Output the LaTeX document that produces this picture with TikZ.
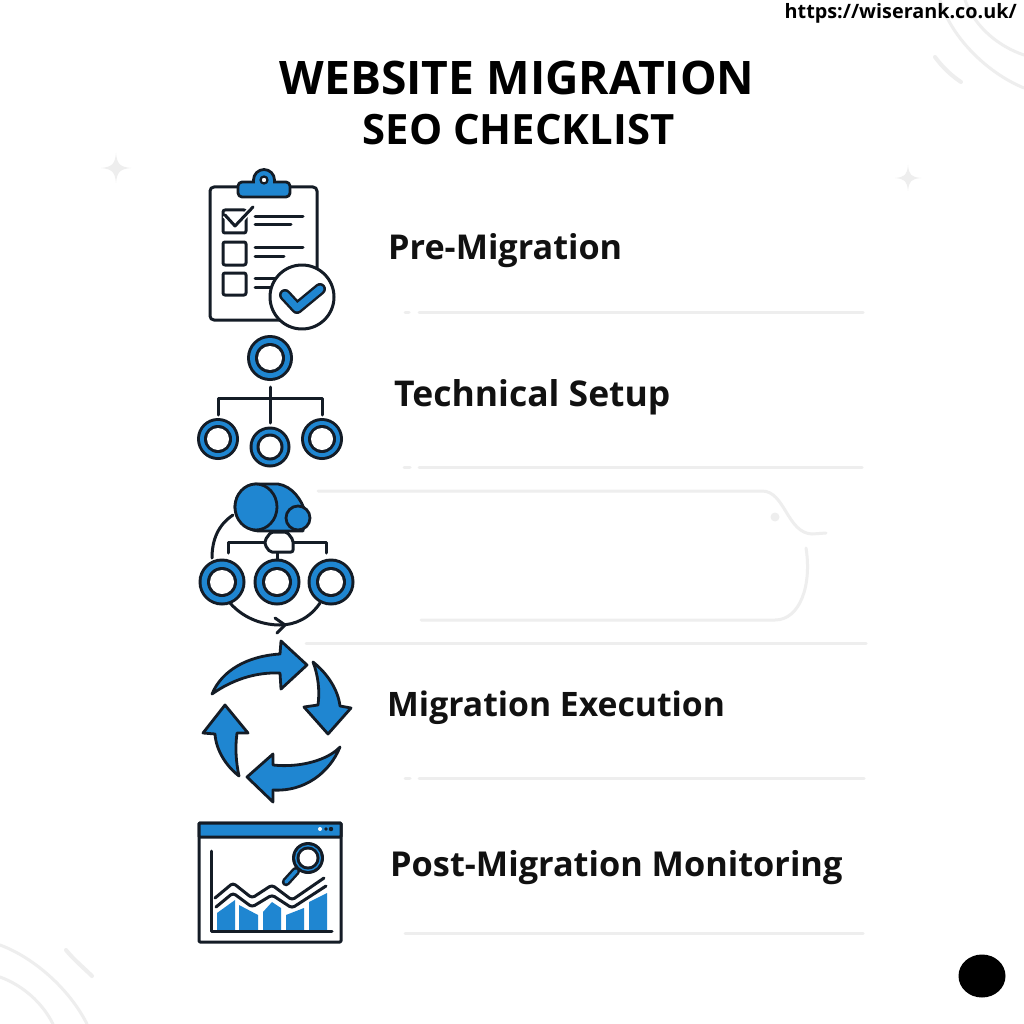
\documentclass[tikz,border=0pt]{standalone}
\usepackage{fontspec}
\setmainfont{Open Sans}
\definecolor{ink}{HTML}{141C26}
\definecolor{sky}{HTML}{1F86D1}
\definecolor{ghost}{HTML}{EEEEEE}
\definecolor{txt}{HTML}{111111}
\tikzset{
  ln/.style={draw=ink,line width=3pt,line cap=round,line join=round},
  shp/.style={draw=ink,fill=sky,line width=2.8pt,line join=round},
  bg/.style={draw=ghost,line width=3pt,line cap=round},
  lbl/.style={anchor=base west,inner sep=0pt,text=txt},
  ttl/.style={anchor=base,inner sep=0pt,text=black},
}
\newcommand{\ringat}[4]{%
  \fill[ink] (#1,#2) circle[radius=#3];
  \fill[sky] (#1,#2) circle[radius=#3-3];
  \fill[ink] (#1,#2) circle[radius=#4+3];
  \fill[white] (#1,#2) circle[radius=#4];}
\begin{document}
\begin{tikzpicture}[x=1pt,y=-1pt]
\useasboundingbox (0,0) rectangle (1024,1024);
\fill[white] (0,0) rectangle (1024,1024);
% background ornaments
\draw[bg] (940,0) .. controls (950,35) and (985,72) .. (1024,88);
\draw[bg] (965,0) .. controls (975,28) and (1000,47) .. (1024,55);
\draw[bg,line width=4pt] (935,57) .. controls (943,68) and (952,76) .. (961,82);
\draw[bg] (0,945) .. controls (35,958) and (70,990) .. (87,1024);
\draw[bg] (0,977) .. controls (22,985) and (42,1002) .. (53,1024);
\draw[bg,line width=4pt] (66,950) .. controls (74,960) and (84,968) .. (92,976);
\fill[ghost] (116,153) .. controls (117,164) and (120,167) .. (131,168) .. controls (120,169) and (117,172) .. (116,183) .. controls (115,172) and (112,169) .. (101,168) .. controls (112,167) and (115,164) .. (116,153) -- cycle;
\fill[ghost] (908,165) .. controls (909,175) and (911,177) .. (921,178) .. controls (911,179) and (909,181) .. (908,191) .. controls (907,181) and (905,179) .. (895,178) .. controls (905,177) and (907,175) .. (908,165) -- cycle;
% rules
\draw[bg] (405,312) -- (409,312); \draw[bg] (419,312) -- (863,312);
\draw[bg] (404,467) -- (410,467); \draw[bg] (419,467) -- (862,467);
\draw[bg] (306,643) -- (866,643);
\draw[bg] (405,778) -- (410,778); \draw[bg] (419,778) -- (864,778);
\draw[bg] (405,933) -- (863,933);
% speech bubble
\draw[bg] (318,491) -- (762,491) .. controls (785,491) and (787,533) .. (812,534) -- (826,533);
\draw[bg] (806,548) .. controls (812,585) and (800,620) .. (775,620) -- (421,620);
\fill[ghost] (775,517) circle[radius=4.5];
% titles
\node[ttl,font=\bfseries\fontsize{46.2}{46}\selectfont] (title) at (517,95) {WEBSITE MIGRATION};
\node[ttl,font=\bfseries\fontsize{41.8}{42}\selectfont] (sub) at (518.5,145) {SEO CHECKLIST};
\node[anchor=base east,inner sep=0pt,text=black,font=\bfseries\fontsize{19.8}{20}\selectfont] (url) at (1017,19) {https://wiserank.co.uk/};
\node[lbl,font=\bfseries\fontsize{34.2}{34}\selectfont] (a) at (388,259) {Pre-Migration};
\node[lbl,font=\bfseries\fontsize{35.5}{36}\selectfont] (b) at (394,406) {Technical Setup};
\node[lbl,font=\bfseries\fontsize{33.7}{34}\selectfont] (c) at (387,716) {Migration Execution};
\node[lbl,font=\bfseries\fontsize{34.3}{34}\selectfont] (d) at (390,876) {Post-Migration Monitoring};
% clipboard
\draw[ln,fill=white,rounded corners=4pt] (210,187) rectangle (317,320);
\draw[shp] (264,180) circle[radius=10.5];
\draw[shp,rounded corners=4pt] (238,182) rectangle (290,197);
\fill[sky] (255,180) rectangle (273,185);
\draw[draw=ink,fill=white,line width=2.2pt] (264,180) circle[radius=3.5];
\draw[ln,rounded corners=2pt] (223,210) rectangle (246,233);
\draw[ln,rounded corners=2pt] (223,242) rectangle (246,265);
\draw[ln,rounded corners=2pt] (223,273) rectangle (246,295);
\draw[white,line width=6pt] (225,215) -- (235,226) -- (253,207);
\draw[ln] (225,215) -- (235,226) -- (253,207);
\draw[ln] (255,217) -- (303,217); \draw[ln] (255,225) -- (291,225);
\draw[ln] (255,247) -- (303,247); \draw[ln] (255,256) -- (284,256);
\draw[ln] (255,278) -- (282,278); \draw[ln] (255,287) -- (275,287);
\draw[ln,fill=white] (302,297) circle[radius=32];
\draw[draw=ink,line width=12pt,line cap=round,line join=round] (285,295) -- (297,308) -- (320,289);
\draw[draw=sky,line width=7pt,line cap=round,line join=round] (285,295) -- (297,308) -- (320,289);
% org chart
\ringat{270}{358}{23}{12}
\ringat{218}{439}{21}{11}
\ringat{270}{447}{20.5}{10.5}
\ringat{322}{439}{21}{11}
\draw[ln] (270,387) -- (270,423);
\draw[ln] (218,415) -- (218,398) -- (322,398) -- (322,415);
% cycle chart
\draw[ln] (233,515) .. controls (218,525) and (212,540) .. (212,558);
\draw[ln] (230,603) .. controls (245,620) and (265,625) .. (280,625) .. controls (295,625) and (310,618) .. (320,603);
\draw[ln] (275,618) -- (285,625) -- (277,633);
\draw[ln] (277,552) -- (277,559);
\draw[ln] (228,553) -- (228,542) -- (326,542) -- (326,553);
\draw[ln,fill=white,rounded corners=2pt] (271,532) -- (287,532) -- (293,540) -- (293,552) -- (270,552) -- (265,545) -- (265,540) -- cycle;
\draw[shp] (256,484) -- (278,484) .. controls (292,486) and (302,500) .. (305,512) -- (303,531) -- (258,531) .. controls (245,530) and (235,518) .. (235,507) .. controls (235,495) and (245,484) .. (256,484) -- cycle;
\draw[shp] (256,507) ellipse[x radius=21,y radius=23];
\draw[shp] (298,518) circle[radius=12];
\ringat{222}{582}{23.5}{12}
\ringat{277}{582}{23.5}{12}
\ringat{331}{582}{23.5}{12}
% circular arrows
\draw[shp] (212,694) .. controls (222,670) and (248,656) .. (280,654) -- (281,641) -- (307,665) -- (281,689) -- (280,673) .. controls (255,672) and (232,680) .. (212,694) -- cycle;
\draw[shp] (313,662) .. controls (328,674) and (338,690) .. (340,706) -- (351,708) -- (328,734) -- (304,707) -- (318,705) .. controls (320,690) and (318,675) .. (313,662) -- cycle;
\draw[shp] (340,747) .. controls (328,760) and (300,768) .. (273,765) -- (273,754) -- (247,777) -- (273,802) -- (273,790) .. controls (305,792) and (330,772) .. (340,747) -- cycle;
\draw[shp] (239,776) .. controls (236,762) and (235,748) .. (237,733) -- (248,733) -- (225,705) -- (203,733) -- (215,734) .. controls (216,750) and (226,766) .. (239,776) -- cycle;
% window chart
\draw[ln,fill=white,rounded corners=1pt] (199,823) rectangle (341,942);
\draw[draw=ink,fill=sky,line width=3pt,rounded corners=1pt] (199,823) rectangle (341,837);
\fill[white] (320,829) circle[radius=2];
\fill[ink] (326,829) circle[radius=1.8];
\fill[ink] (331,829) circle[radius=2.2];
\fill[sky] (217,930) -- (217,913) -- (235,900) -- (235,930) -- cycle;
\fill[sky] (239,930) -- (239,905) -- (258,915) -- (258,930) -- cycle;
\fill[sky] (263,930) -- (263,912) -- (272,902) -- (281,908) -- (281,930) -- cycle;
\fill[sky] (286,930) -- (286,915) -- (304,908) -- (304,930) -- cycle;
\fill[sky] (309,930) -- (309,902) -- (327,893) -- (327,930) -- cycle;
\draw[ln] (211,851) -- (211,931) -- (332,931);
\draw[ln,rounded corners=3pt] (215,898) -- (233,883) -- (252,898) -- (272,885) -- (292,900) -- (324,878);
\draw[ln,rounded corners=3pt] (216,907) -- (233,893) -- (252,907) -- (272,895) -- (292,908) -- (326,886);
\draw[draw=ink,line width=8.5pt,line cap=round] (296,871) -- (286,882);
\draw[draw=sky,line width=3.6pt,line cap=round] (296,871) -- (286,882);
\ringat{308}{858}{16}{8.5}
% black dot
\fill[black] (982,976) ellipse[x radius=23.5,y radius=21.5];
\end{tikzpicture}
\end{document}
